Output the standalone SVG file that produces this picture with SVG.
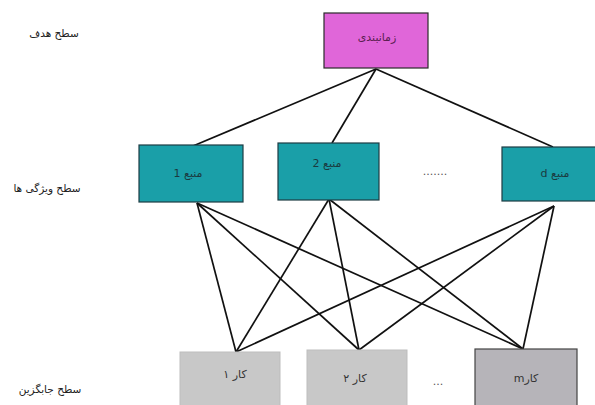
<svg xmlns="http://www.w3.org/2000/svg" width="595" height="405" viewBox="0 0 595 405">
<style>
text{font-family:"DejaVu Sans","Noto Sans",sans-serif;font-size:11px;fill:#333;}
.rtl{direction:rtl;unicode-bidi:embed;text-anchor:middle;}
.lbl{font-size:10.5px;fill:#222;}
.goal{fill:#e066d9;stroke:#2a2a2a;stroke-width:1.2;}
.feat{fill:#1a9fa8;stroke:#1d3c44;stroke-width:1.2;}
.alt{fill:#c8c8c8;stroke:#bdbdbd;stroke-width:1;}
.altd{fill:#b6b4b9;stroke:#444;stroke-width:1.2;}
.c line{stroke:#111;stroke-width:1.7;}
</style>
<rect width="595" height="405" fill="#fff"/>
<g class="c" id="connectors">
<line x1="376" y1="69" x2="193" y2="146"/>
<line x1="376" y1="69" x2="332" y2="143"/>
<line x1="376" y1="69" x2="553" y2="147"/>
<line x1="197" y1="203" x2="236" y2="352"/>
<line x1="197" y1="203" x2="359" y2="350"/>
<line x1="197" y1="203" x2="523" y2="349"/>
<line x1="329" y1="199" x2="236" y2="352"/>
<line x1="329" y1="199" x2="359" y2="350"/>
<line x1="329" y1="199" x2="523" y2="349"/>
<line x1="554" y1="206" x2="236" y2="352"/>
<line x1="554" y1="206" x2="359" y2="350"/>
<line x1="554" y1="206" x2="523" y2="349"/>
</g>
<g id="goal">
<rect class="goal" x="324" y="13" width="104" height="55"/>
<text class="rtl" x="377" y="41" style="fill:#5a2050">زمانبندی</text>
</g>
<g id="feat1">
<rect class="feat" x="139" y="145" width="104" height="57"/>
<text class="rtl" x="188" y="177" style="fill:#1a3a40">منبع 1</text>
</g>
<g id="feat2">
<rect class="feat" x="278" y="143" width="101" height="57"/>
<text class="rtl" x="327" y="167" style="fill:#1a3a40">منبع 2</text>
</g>
<g id="featd">
<rect class="feat" x="502" y="147" width="106" height="54"/>
<text class="rtl" x="555" y="177" style="fill:#1a3a40">منبع d</text>
</g>
<g id="alt1">
<rect class="alt" x="180" y="352" width="100" height="60"/>
<text class="rtl" x="235" y="378">کار ۱</text>
</g>
<g id="alt2">
<rect class="alt" x="307" y="350" width="100" height="62"/>
<text class="rtl" x="355" y="382">کار ۲</text>
</g>
<g id="altm">
<rect class="altd" x="475" y="349" width="102" height="63"/>
<text class="rtl" x="526" y="382">کارm</text>
</g>
<text x="435" y="175" style="text-anchor:middle;fill:#555">.......</text>
<text x="438" y="385" style="text-anchor:middle;fill:#555">...</text>
<text class="rtl lbl" x="54" y="37">سطح هدف</text>
<text class="rtl lbl" x="47" y="192">سطح ویژگی ها</text>
<text class="rtl lbl" x="50" y="393">سطح جابگزین</text>
</svg>
